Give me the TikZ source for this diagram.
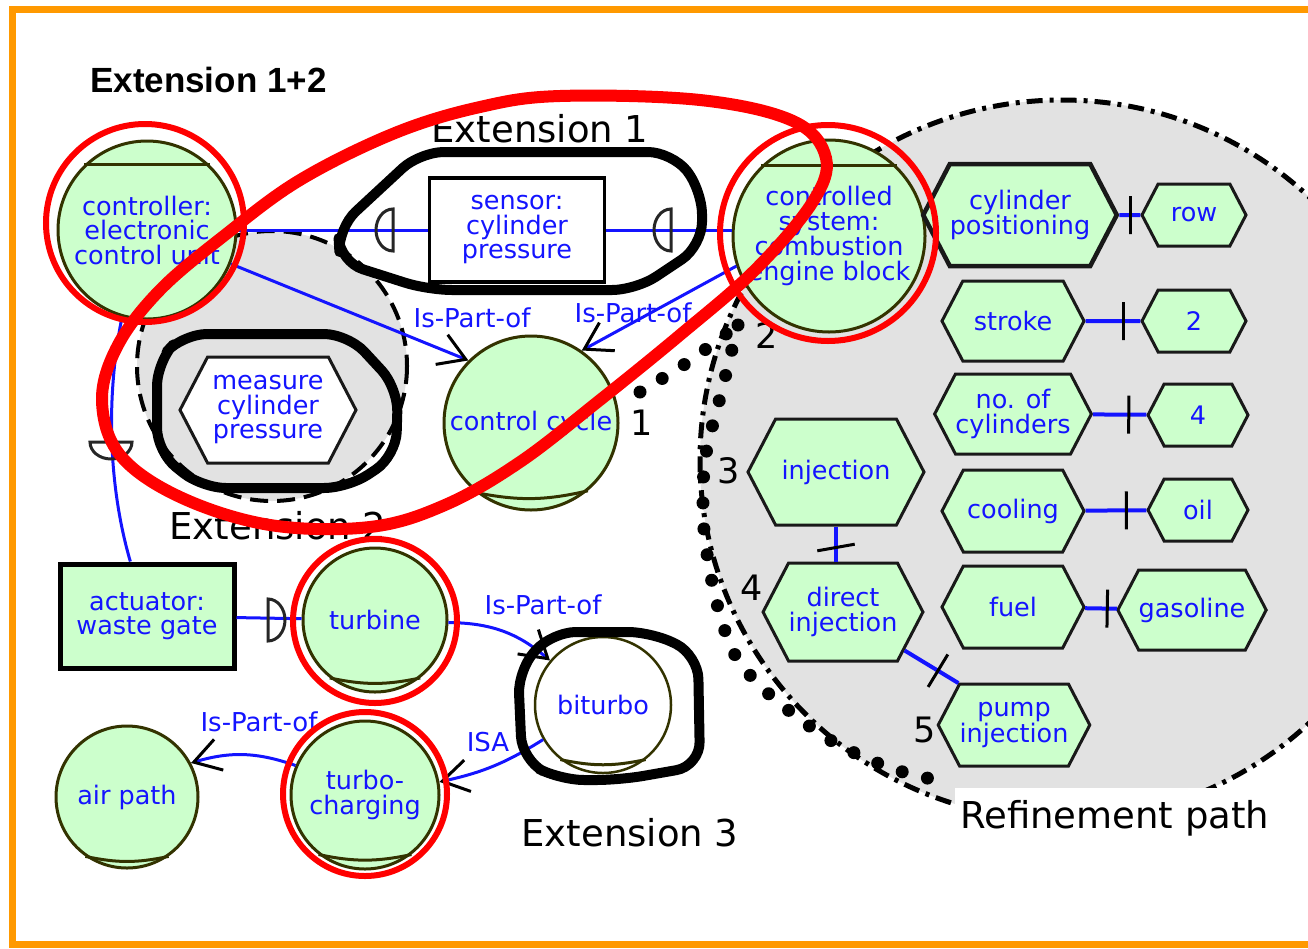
\documentclass[tikz,border=0pt]{standalone}
\usepackage{fontspec}
\setmainfont{DejaVu Sans}
\newfontfamily\headfont{Liberation Sans}
\usetikzlibrary{shapes.symbols,arrows.meta,positioning}
\newcommand\nodefont{\fontsize{25.5}{24.5}\selectfont}
\newcommand\lblfont{\fontsize{26}{26}\selectfont}
\newcommand\numfont{\fontsize{35}{35}\selectfont}
\newcommand\extfont{\fontsize{37}{37}\selectfont}
\definecolor{objgreen}{RGB}{204,255,204}
\definecolor{objline}{RGB}{51,51,0}
\definecolor{objblue}{RGB}{20,20,255}
\definecolor{refgray}{RGB}{226,226,226}
\definecolor{frameorange}{RGB}{255,153,0}
\definecolor{redmark}{RGB}{255,0,0}
\tikzset{
obj/.style = {circle, draw=objline, fill=objgreen, line width=3pt, text=objblue, font=\nodefont, align=center, inner sep=0pt},
box/.style = {rectangle, draw=black, fill=objgreen, line width=5pt, text=objblue, font=\nodefont, align=center, inner sep=0pt},
hexa/.style = {signal, signal to=east and west, signal pointer angle=125, draw=black!90, fill=objgreen, line width=3pt, text=objblue, font=\nodefont, align=center, inner sep=0pt},
chord/.style = {draw=objline, line width=3pt},
link/.style = {draw=objblue, line width=3pt},
partof/.style = {link, -{Straight Barb[color=black, length=26pt, width=32pt, line width=3pt]}},
attr/.style = {draw=objblue, line width=4pt},
tickbar/.style = {draw=black, line width=3pt, rectangle, minimum width=0pt, minimum height=38pt, inner sep=0pt, sloped},
lbl/.style = {text=objblue, font=\lblfont, inner sep=0pt},
num/.style = {font=\numfont, inner sep=0pt},
ext/.style = {font=\extfont, inner sep=0pt},
blob/.style = {draw=black, line width=10pt, rounded corners=24pt, line join=round},
redring/.style = {draw=redmark, line width=6pt},
redloop/.style = {draw=redmark, line width=12pt},
dotline/.style = {line width=13pt, line cap=round, dash pattern=on 0pt off 26pt},
refarea/.style = {fill=refgray, draw=black, line width=5pt, dash pattern=on 16pt off 7pt on 4pt off 7pt},
extarea/.style = {fill=refgray, draw=black, line width=4pt, dash pattern=on 18pt off 9pt},
frameline/.style = {draw=frameorange, line width=7pt},
socket/.pic = {\draw[black!85, line width=3pt] (0,-21) arc[start angle=-90, end angle=-270, x radius=17, y radius=21] -- cycle;}
}

\begin{document}
\begin{tikzpicture}[x=1pt, y=-1pt]
  \useasboundingbox (0,0) rectangle (1308,948);
  \draw[frameline] (12,9) rectangle (1340,944);

  % areas behind the model
  \draw[refarea] (1062,460) ellipse [x radius=362, y radius=360];
  \fill[white] (955,788) rectangle (1320,870);
  \draw[extarea] (272,366) circle [radius=135];
  \draw[dotline] plot[smooth] coordinates {(640,392) (688,362) (738,325)};
  \draw[dotline] plot[smooth] coordinates {(738,325) (722,390) (705,460) (704,530) (716,600) (735,655) (770,695) (830,740) (890,768) (945,782)};

  % objects
  \node[obj, minimum size=178pt] (ctrl) at (147,230) {controller:\\electronic\\control unit};
  \node[box, fill=white, line width=3.5pt, minimum width=175pt, minimum height=104pt] (sensor) at (517,230) {sensor:\\cylinder\\pressure};
  \node[obj, minimum size=192pt] (cs) at (829,236) {controlled\\system:\\combustion\\engine block};
  \node[obj, minimum size=174pt] (cc) at (531,423) {control cycle};
  \node[hexa, fill=white, minimum width=176pt, minimum height=106pt] (meas) at (268,410) {measure\\cylinder\\pressure};
  \node[box, minimum width=174pt, minimum height=104pt] (act) at (147,616) {actuator:\\waste gate};
  \node[obj, minimum size=144pt] (tb) at (375,620) {turbine};
  \node[obj, fill=white, line width=2.5pt, minimum size=136pt] (bi) at (603,705) {biturbo};
  \node[obj, minimum size=148pt] (tc) at (365,795) {turbo-\\charging};
  \node[obj, minimum size=142pt] (ap) at (127,797) {air path};

  \draw[chord] (ctrl.134) -- (ctrl.46);
  \draw[chord] (cs.134) -- (cs.46);
  \draw[chord] (cc.-128) to[bend right=12] (cc.-50);
  \draw[chord] (tb.-128) to[bend right=12] (tb.-52);
  \draw[chord] (bi.-128) to[bend right=12] (bi.-52);
  \draw[chord] (tc.-128) to[bend right=12] (tc.-52);
  \draw[chord] (ap.-125) to[bend right=12] (ap.-55);

  % refinement path
  \node[hexa, line width=4.5pt, minimum width=168pt, minimum height=102pt] (cp) at (1020,215) {cylinder\\positioning};
  \node[hexa, minimum width=142pt, minimum height=80pt] (st) at (1013,321) {stroke};
  \node[hexa, minimum width=142pt, minimum height=80pt] (nc) at (1013,414) {no. of\\cylinders};
  \node[hexa, minimum width=142pt, minimum height=82pt] (co) at (1013,511) {cooling};
  \node[hexa, minimum width=142pt, minimum height=82pt] (fu) at (1013,607) {fuel};
  \node[hexa, minimum width=104pt, minimum height=62pt] (row) at (1194,215) {row};
  \node[hexa, minimum width=104pt, minimum height=62pt] (v2) at (1194,321) {2};
  \node[hexa, minimum width=100pt, minimum height=62pt] (v4) at (1198,415) {4};
  \node[hexa, minimum width=100pt, minimum height=62pt] (oil) at (1198,510) {oil};
  \node[hexa, minimum width=138pt, minimum height=80pt] (gas) at (1192,610) {gasoline};
  \node[hexa, minimum width=176pt, minimum height=106pt] (inj) at (836,472) {injection};
  \node[hexa, minimum width=152pt, minimum height=98pt] (di) at (843,612) {direct\\injection};
  \node[hexa, minimum width=138pt, minimum height=82pt] (pi) at (1014,725) {pump\\injection};

  \draw[attr] (cp) -- node[tickbar, pos=0.55] {} (row);
  \draw[attr] (st) -- node[tickbar, pos=0.7] {} (v2);
  \draw[attr] (nc) -- node[tickbar, pos=0.67] {} (v4);
  \draw[attr] (co) -- node[tickbar, pos=0.67] {} (oil);
  \draw[attr] (fu) -- node[tickbar, pos=0.7] {} (gas);
  \draw[attr] (inj.-90) -- node[tickbar, pos=0.6, rotate=10] {} (inj.-90 |- di.90);
  \draw[attr] (di.-32) -- node[tickbar, pos=0.62] {} (pi.143);

  % links
  \draw[link] (ctrl) -- (sensor);
  \draw[link] (sensor.east) -- (sensor.east -| cs.west);
  \draw[link] (ctrl.-106) .. controls (106,395) and (108,485) .. (act.107);
  \draw[link] (act) -- (tb);
  \pic at (393,230) {socket};
  \pic at (671,230) {socket};
  \pic[rotate=90] at (111,442) {socket};
  \pic[rotate=180] at (268,620) {socket};
  \draw[partof] (ctrl.-22) -- (cc.135);
  \draw[partof] (cs.-162) -- (cc.55);
  \draw[partof] (tb.-2) to[bend left=20] (bi.140);
  \draw[partof] (bi.-150) to[bend left=10] (tc.10);
  \draw[partof] (tc.157) to[bend right=18] (ap.28);

  \node[lbl] (l1) at (472,318) {Is-Part-of};
  \node[lbl] (l2) at (633,313) {Is-Part-of};
  \node[lbl] (l3) at (543,605) {Is-Part-of};
  \node[lbl] (l4) at (259,722) {Is-Part-of};
  \node[lbl] (l5) at (488,742) {ISA};

  % extensions
  \draw[blob] (420,152) -- (672,152) -- (702,190) -- (702,246) -- (636,290) -- (428,290) -- (340,262) -- (338,228) -- cycle;
  \draw[blob] (183,334) -- (348,334) -- (398,388) -- (396,456) -- (348,488) -- (202,488) -- (157,452) -- (157,362) -- cycle;
  \draw[blob] (552,632) -- (652,632) -- (698,655) -- (700,766) -- (620,780) -- (560,780) -- (522,760) -- (518,670) -- cycle;

  \node[ext] (ext1) at (540,129) {Extension 1};
  \node[ext] (ext2) at (278,526) {Extension 2};
  \node[ext] (ext3) at (630,833) {Extension 3};
  \node[ext, anchor=base west] (refl) at (960,828) {Refinement path};
  \node[anchor=base west, font=\headfont\bfseries\fontsize{35}{35}\selectfont, inner sep=0pt] (title) at (90,92) {Extension 1+2};

  \node[num] (n1) at (642,423) {1};
  \node[num] (n2) at (767,336) {2};
  \node[num] (n3) at (729,471) {3};
  \node[num] (n4) at (752,588) {4};
  \node[num] (n5) at (925,730) {5};

  % highlighted parts
  \draw[redring] (145,223) circle [radius=99];
  \draw[redring] (828,233) circle [radius=108];
  \draw[redring] (375,621) circle [radius=82];
  \draw[redring] (365,794) circle [radius=82];
  \draw[redloop] plot[smooth cycle, tension=0.6] coordinates {(560,96) (700,100) (793,121) (826,158) (812,203) (755,270) (680,335) (600,400) (520,462) (445,505) (370,527) (270,525) (180,497) (120,455) (102,400) (118,345) (160,290) (225,235) (300,180) (395,133) (480,107)};
\end{tikzpicture}
\end{document}
